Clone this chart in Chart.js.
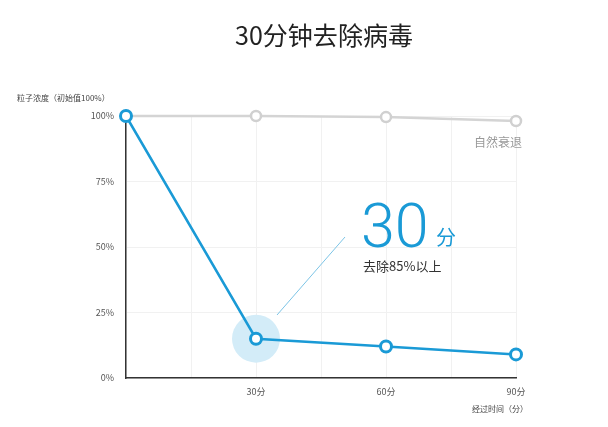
<!doctype html>
<html>
<head>
<meta charset="utf-8">
<style>
  body { margin:0; background:#fff; }
  #wrap { width:608px; height:427px; }
</style>
</head>
<body>
<div id="wrap"><canvas id="c"></canvas></div>
<script src="https://cdn.jsdelivr.net/npm/chart.js"></script>
<script>
const minutes = [0, 30, 60, 90];
const withDevice = [100, 15, 12, 9];      // 有净化器
const natural = [100, 100, 99.6, 98.1];   // 自然衰退
const yTicks = [0, 25, 50, 75, 100];

const BLUE = "#1a9ad6";
const FONT = "'Noto Sans CJK SC', 'Noto Sans', sans-serif";

// texts and halo drawn over the chart
const decor = {
  id: "decor",
  beforeDatasetsDraw(chart) {
    const { ctx, scales: { x, y } } = chart;
    // halo round the 30 min point
    ctx.save();
    ctx.fillStyle = "#d3ecf8";
    ctx.beginPath();
    ctx.arc(x.getPixelForValue(minutes[1]), y.getPixelForValue(withDevice[1]), 24, 0, Math.PI * 2);
    ctx.fill();
    ctx.restore();
  },
  afterDraw(chart) {
    const { ctx } = chart;
    ctx.save();
    ctx.textBaseline = "alphabetic";

    ctx.fillStyle = "#222";
    ctx.font = "25px " + FONT;
    ctx.textAlign = "center";
    ctx.fillText("30分钟去除病毒", 324, 45);

    ctx.fillStyle = "#444";
    ctx.font = "8px " + FONT;
    ctx.textAlign = "left";
    ctx.fillText("粒子浓度（初始值100%）", 17, 101);

    ctx.textAlign = "right";
    ctx.fillText("经过时间（分）", 528, 412);

    ctx.fillStyle = "#999";
    ctx.font = "12px " + FONT;
    ctx.textAlign = "right";
    ctx.fillText("自然衰退", 522, 147);

    // pointer line
    ctx.strokeStyle = "#7cc4e6";
    ctx.lineWidth = 1;
    ctx.beginPath();
    ctx.moveTo(345, 237);
    ctx.lineTo(277, 315);
    ctx.stroke();

    ctx.fillStyle = BLUE;
    ctx.textAlign = "left";
    ctx.font = "300 61px Roboto, " + FONT;
    ctx.fillText("30", 361, 247);
    ctx.font = "20px " + FONT;
    ctx.fillText("分", 436, 245);

    ctx.fillStyle = "#333";
    ctx.font = "13px " + FONT;
    ctx.fillText("去除85%以上", 363, 271);
    ctx.restore();
  }
};

new Chart(document.getElementById("c"), {
  type: "line",
  data: {
    datasets: [
      {
        label: "去除",
        data: minutes.map((m, i) => ({ x: m, y: withDevice[i] })),
        borderColor: BLUE,
        borderWidth: 2.5,
        pointRadius: 5.5,
        pointBorderWidth: 3,
        pointBorderColor: BLUE,
        pointBackgroundColor: "#fff",
        tension: 0
      },
      {
        label: "自然衰退",
        data: minutes.map((m, i) => ({ x: m, y: natural[i] })),
        borderColor: "#d4d4d4",
        borderWidth: 2.5,
        pointRadius: 5,
        pointBorderWidth: 2.5,
        pointBorderColor: "#d0d0d0",
        pointBackgroundColor: "#fff",
        tension: 0
      }
    ]
  },
  options: {
    responsive: true,
    maintainAspectRatio: false,
    animation: false,
    clip: false,
    layout: { padding: { top: 116, right: 92, left: 0, bottom: 0 } },
    plugins: { legend: { display: false }, tooltip: { enabled: false } },
    scales: {
      x: {
        type: "linear",
        min: 0,
        max: 90,
        afterFit: (s) => { s.height = 49; },
        ticks: {
          stepSize: 15,
          color: "#555",
          font: { size: 9, family: FONT },
          padding: 8,
          callback: (v) => (v > 0 && v % 30 === 0 ? v + "分" : "")
        },
        grid: { color: "#f1f1f1", drawTicks: false },
        border: { color: "#333", width: 1.5 }
      },
      y: {
        min: 0,
        max: 100,
        afterFit: (s) => { s.width = 126; },
        afterBuildTicks: (s) => { s.ticks = yTicks.map((v) => ({ value: v })); },
        ticks: {
          color: "#555",
          font: { size: 9, family: FONT },
          padding: 12,
          callback: (v) => v + "%"
        },
        grid: { color: "#f1f1f1", drawTicks: false },
        border: { color: "#333", width: 1.5 }
      }
    }
  },
  plugins: [decor]
});
</script>
</body>
</html>
